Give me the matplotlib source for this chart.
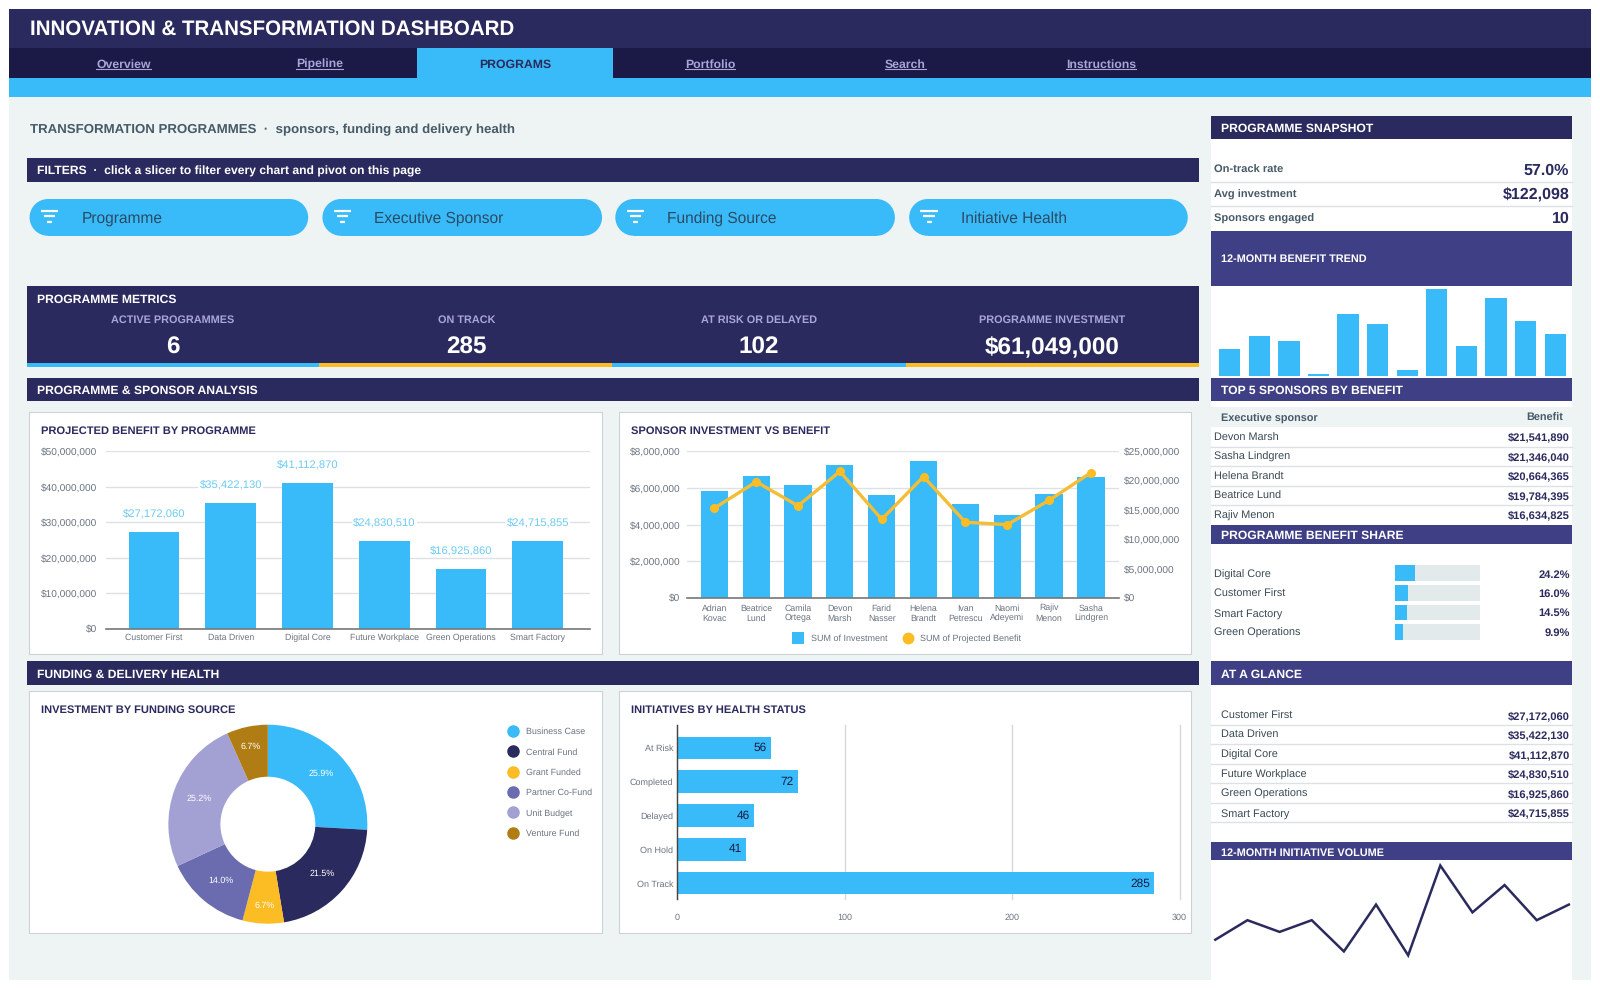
import matplotlib
matplotlib.use('Agg')
from matplotlib import pyplot as plt
from matplotlib.patches import Rectangle, Circle
from matplotlib.ticker import FuncFormatter

plt.rcParams['font.family'] = ['Liberation Sans', 'DejaVu Sans']
plt.rcParams['text.hinting'] = 'no_hinting'

NAVY = '#2B2A5E'
DARK = '#1B1A47'
INDIGO = '#3F3F85'
BLUE = '#38BBF8'
YELLOW = '#FBBC24'
PURPLE = '#6B6BB0'
LAVENDER = '#A3A0D4'
BROWN = '#B07D15'
BG = '#EEF3F4'
GREY = '#6B7480'
SLATE = '#465A68'
LINE = '#DDE1E6'

# data
nav_items = ['Overview', 'Pipeline', 'PROGRAMS', 'Portfolio', 'Search', 'Instructions']
slicers = ['Programme', 'Executive Sponsor', 'Funding Source', 'Initiative Health']
metric_labels = ['ACTIVE PROGRAMMES', 'ON TRACK', 'AT RISK OR DELAYED', 'PROGRAMME INVESTMENT']
metric_values = ['6', '285', '102', '$61,049,000']

programmes = ['Customer First', 'Data Driven', 'Digital Core', 'Future Workplace', 'Green Operations', 'Smart Factory']
programme_benefit = [27172060, 35422130, 41112870, 24830510, 16925860, 24715855]

sponsors = ['Adrian\nKovac', 'Beatrice\nLund', 'Camila\nOrtega', 'Devon\nMarsh', 'Farid\nNasser',
            'Helena\nBrandt', 'Ivan\nPetrescu', 'Naomi\nAdeyemi', 'Rajiv\nMenon', 'Sasha\nLindgren']
sponsor_investment = [5830000, 6620000, 6170000, 7240000, 5610000, 7480000, 5120000, 4500000, 5660000, 6570000]
sponsor_benefit = [15300000, 19784395, 15700000, 21541890, 13400000, 20664365, 12900000, 12500000, 16634825, 21346040]

funding_sources = ['Business Case', 'Central Fund', 'Grant Funded', 'Partner Co-Fund', 'Unit Budget', 'Venture Fund']
funding_share = [25.9, 21.5, 6.7, 14.0, 25.2, 6.7]
funding_colors = [BLUE, NAVY, YELLOW, PURPLE, LAVENDER, BROWN]

health_status = ['At Risk', 'Completed', 'Delayed', 'On Hold', 'On Track']
health_count = [56, 72, 46, 41, 285]

snapshot_labels = ['On-track rate', 'Avg investment', 'Sponsors engaged']
snapshot_values = ['57.0%', '$122,098', '10']

benefit_trend = [9.0, 13.1, 11.4, 0.4, 20.6, 17.1, 2.0, 28.9, 9.7, 25.7, 18.2, 14.0]
initiative_volume = [36, 41, 38, 41, 33, 45, 32, 55, 43, 50, 41, 45]

top_sponsors = ['Devon Marsh', 'Sasha Lindgren', 'Helena Brandt', 'Beatrice Lund', 'Rajiv Menon']
top_benefit = ['$21,541,890', '$21,346,040', '$20,664,365', '$19,784,395', '$16,634,825']

share_names = ['Digital Core', 'Customer First', 'Smart Factory', 'Green Operations']
share_values = [24.2, 16.0, 14.5, 9.9]

W, H = 1568, 968
fig = plt.figure(figsize=(16, 9.88), dpi=100, facecolor='white')
bg = fig.add_axes([0, 0, 1, 1])
bg.set_xlim(0, W)
bg.set_ylim(H, 0)
bg.axis('off')


def px_ax(x0, y0, x1, y1):
    ax = fig.add_axes([x0 / W, 1 - y1 / H, (x1 - x0) / W, (y1 - y0) / H])
    ax.patch.set_alpha(0)
    return ax


def box(x0, y0, x1, y1, color, **kw):
    bg.add_patch(Rectangle((x0, y0), x1 - x0, y1 - y0, facecolor=color, edgecolor=kw.pop('edge', 'none'), **kw))


def label(x, y, s, size=7, color='white', weight='normal', ha='left', **kw):
    return bg.text(x, y + 1, s, fontsize=size, color=color, fontweight=weight, ha=ha, va='center', **kw)


def bar_header(x0, y0, x1, y1, s, color=NAVY, tx=None, size=8.75):
    box(x0, y0, x1, y1, color)
    label(x0 + 10 if tx is None else tx, (y0 + y1) / 2 + 0.5, s, size=size, weight='bold')


# page
box(9, 9, 1559, 960, BG)
box(9, 9, 1559, 47, NAVY)
box(9, 47, 1559, 76, DARK)
box(9, 76, 1559, 95, BLUE)
box(409, 47, 601, 76, BLUE)
label(29, 28, 'INNOVATION & TRANSFORMATION DASHBOARD', size=14.8, weight='bold')

fig.canvas.draw()
renderer = fig.canvas.get_renderer()
nav_x = [121, 313, 505, 696, 887, 1079]
for i, item in enumerate(nav_items):
    if item == 'PROGRAMS':
        label(nav_x[i], 62, item, size=8.8, color=NAVY, weight='bold', ha='center')
    else:
        t = label(nav_x[i], 62, item, size=8.8, color='#A8A5D8', weight='bold', ha='center')
        half = t.get_window_extent(renderer).width * W / 1600 / 2
        bg.plot([nav_x[i] - half, nav_x[i] + half], [68, 68], color='#A8A5D8', lw=0.8)

label(29, 126, 'TRANSFORMATION PROGRAMMES  ·  sponsors, funding and delivery health', size=9.55, color=SLATE, weight='bold')

# filters
box(26, 155, 1175, 178, NAVY)
label(36, 167, 'FILTERS  ·  click a slicer to filter every chart and pivot on this page', size=8.75, weight='bold')
pill_x = [(29, 302), (316, 590), (603, 877), (891, 1164)]
for (x0, x1), name in zip(pill_x, slicers):
    box(x0 + 18, 195, x1 - 18, 231, BLUE)
    bg.add_patch(Circle((x0 + 18, 213), 18, facecolor=BLUE, edgecolor='none'))
    bg.add_patch(Circle((x1 - 18, 213), 18, facecolor=BLUE, edgecolor='none'))
    for dy, a, b in [(-5.5, 11, 28), (0, 14, 25), (5.5, 17, 22)]:
        bg.plot([x0 + a, x0 + b], [212 + dy, 212 + dy], color='white', lw=1.6, solid_capstyle='butt')
    label(x0 + 51, 213, name, size=11.2, color='#2C4A66')

# metrics
box(26, 280, 1175, 360, NAVY)
label(36, 293, 'PROGRAMME METRICS', size=8.75, weight='bold')
metric_x = [169, 457, 744, 1031]
edges = [26, 313, 600, 888, 1175]
for i in range(4):
    label(metric_x[i], 313, metric_labels[i], size=7.8, color='#A8A5D8', weight='bold', ha='center')
    label(metric_x[i], 340, metric_values[i], size=17.5, weight='bold', ha='center')
    box(edges[i], 356, edges[i + 1], 360, BLUE if i % 2 == 0 else YELLOW)

bar_header(26, 370, 1175, 393, 'PROGRAMME & SPONSOR ANALYSIS')
bar_header(26, 648, 1175, 671, 'FUNDING & DELIVERY HEALTH')

# cards
for x0, y0, x1, y1, title in [(28.5, 403.5, 589.5, 640.5, 'PROJECTED BENEFIT BY PROGRAMME'),
                              (606.5, 403.5, 1167.5, 640.5, 'SPONSOR INVESTMENT VS BENEFIT'),
                              (28.5, 677.5, 589.5, 914.5, 'INVESTMENT BY FUNDING SOURCE'),
                              (606.5, 677.5, 1167.5, 914.5, 'INITIATIVES BY HEALTH STATUS')]:
    box(x0, y0, x1, y1, 'white', edge='#CDD2D6', lw=0.8)
    label(x0 + 12, y0 + 17.5, title, size=8.05, color=NAVY, weight='bold')

money = FuncFormatter(lambda v, p: '${:,.0f}'.format(v))


def clean(ax):
    for s in ['top', 'right', 'left']:
        ax.spines[s].set_visible(False)
    ax.spines['bottom'].set_color('#777777')
    ax.spines['bottom'].set_linewidth(1.2)
    ax.tick_params(length=0, labelcolor=GREY)
    ax.tick_params(axis='x', labelsize=6.3)
    ax.tick_params(axis='y', labelsize=7.3)
    ax.set_axisbelow(True)


# projected benefit
ax = px_ax(104, 442, 578, 616)
ax.bar(range(6), programme_benefit, width=0.66, color=BLUE)
ax.set_xlim(-0.625, 5.678)
ax.set_ylim(0, 50000000)
ax.set_yticks([0, 10000000, 20000000, 30000000, 40000000, 50000000])
ax.yaxis.set_major_formatter(money)
ax.set_xticks(range(6))
ax.set_xticklabels(programmes)
ax.grid(axis='y', color=LINE, lw=1)
clean(ax)
ax.tick_params(axis='x', pad=3.5)
ax.tick_params(axis='y', pad=6.5)
for i, v in enumerate(programme_benefit):
    ax.text(i, v + 5100000, '${:,}'.format(v), ha='center', va='center', fontsize=8.1, color='#6CCBF2',
            bbox=dict(facecolor='white', edgecolor='none', pad=1))

# sponsor combo
ax = px_ax(673, 442, 1097, 586)
ax.bar(range(10), sponsor_investment, width=0.65, color=BLUE)
ax.set_xlim(-0.66, 9.68)
ax.set_ylim(0, 8000000)
ax.set_yticks([0, 2000000, 4000000, 6000000, 8000000])
ax.yaxis.set_major_formatter(money)
ax.set_xticks(range(10))
ax.set_xticklabels(sponsors, linespacing=1.25)
ax.grid(axis='y', color=LINE, lw=1)
clean(ax)
ax.tick_params(axis='x', pad=4.3)
ax.tick_params(axis='y', pad=4.4)
ax2 = ax.twinx()
ax2.patch.set_alpha(0)
ax2.plot(range(10), sponsor_benefit, color='#F3BE35', lw=2.4, marker='o', ms=5.5, mfc=YELLOW, mec=YELLOW)
ax2.set_ylim(0, 25000000)
ax2.set_yticks([0, 5000000, 10000000, 15000000, 20000000, 25000000])
ax2.yaxis.set_major_formatter(money)
for s in ax2.spines.values():
    s.set_visible(False)
ax2.tick_params(length=0, labelsize=7.3, labelcolor=GREY, pad=3)

box(776, 619, 788, 631, BLUE, zorder=5)
label(795, 625, 'SUM of Investment', size=6.5, color=GREY)
bg.plot([890], [625], 'o', ms=7.5, color=YELLOW)
label(902, 625, 'SUM of Projected Benefit', size=6.5, color=GREY)

# donut
ax = px_ax(165, 710, 360, 905)
wedges, texts, pcts = ax.pie(funding_share, colors=funding_colors, startangle=90, counterclock=False, radius=1,
                             wedgeprops=dict(width=0.523), autopct='%.1f%%', pctdistance=0.74,
                             textprops=dict(color='white', fontsize=6.4))
pcts[2].set_y(pcts[2].get_position()[1] - 8 / 97.5)
pcts[5].set_y(pcts[5].get_position()[1] + 5 / 97.5)
pcts[5].set_x(pcts[5].get_position()[0] - 2 / 97.5)
ax.set_xlim(-1, 1)
ax.set_ylim(-1, 1)
legend_y = [716, 736, 756, 776, 796, 816]
for y, name, c in zip(legend_y, funding_sources, funding_colors):
    bg.plot([503], [y], 'o', ms=8, color=c)
    label(515, y, name, size=6.4, color=GREY)

# health status
ax = px_ax(663.5, 710, 1156, 881)
ypos = range(5)
ax.barh(ypos, health_count, height=0.66, color=BLUE)
ax.set_ylim(4.47, -0.68)
ax.set_xlim(0, 300)
ax.set_xticks([0, 100, 200, 300])
ax.set_yticks(ypos)
ax.set_yticklabels(health_status)
ax.grid(axis='x', color='#D5D8DC', lw=1)
for l in ax.get_xgridlines():
    l.set_clip_on(False)
for s in ['top', 'right', 'bottom']:
    ax.spines[s].set_visible(False)
ax.spines['left'].set_color('#444444')
ax.spines['left'].set_linewidth(1)
ax.tick_params(length=0, labelsize=6.5, labelcolor=GREY)
ax.tick_params(axis='x', pad=10)
ax.tick_params(axis='y', pad=2.6)
ax.set_axisbelow(True)
for i, v in enumerate(health_count):
    ax.text(v - 2.5, i, str(v), ha='right', va='center', fontsize=8.6, color=DARK)

# right panel
box(1187, 114, 1541, 960, 'white')
bar_header(1187, 114, 1541, 136, 'PROGRAMME SNAPSHOT')
snap_y = [166, 190, 213]
for i in range(3):
    label(1190, snap_y[i], snapshot_labels[i], size=8, color=SLATE, weight='bold')
    label(1538, snap_y[i], snapshot_values[i], size=11.5, color=NAVY, weight='bold', ha='right')
    if i < 2:
        bg.plot([1187, 1541], [snap_y[i] + 12, snap_y[i] + 12], color=LINE, lw=1)
box(1187, 226, 1541, 280, INDIGO)
label(1197, 253, '12-MONTH BENEFIT TREND', size=7.8, weight='bold')

ax = px_ax(1190, 283, 1538, 368)
ax.bar(range(12), benefit_trend, width=0.72, color=BLUE)
ax.set_xlim(-0.52, 11.48)
ax.set_ylim(0, max(benefit_trend))
ax.axis('off')

bar_header(1187, 370, 1541, 393, 'TOP 5 SPONSORS BY BENEFIT', color=INDIGO)
box(1187, 399, 1541, 418, BG)
label(1197, 409, 'Executive sponsor', size=7.85, color=SLATE, weight='bold')
label(1532, 409, 'Benefit', size=7.85, color=SLATE, weight='bold', ha='right')
for i in range(5):
    y = 428 + i * 19.1
    label(1190, y, top_sponsors[i], size=7.8, color='#3A4A55')
    label(1538.5, y, top_benefit[i], size=8, color=NAVY, weight='bold', ha='right')
    if i < 4:
        bg.plot([1187, 1541], [y + 9.5, y + 9.5], color=LINE, lw=1)

bar_header(1187, 514, 1541, 533, 'PROGRAMME BENEFIT SHARE', color=INDIGO)
ax = px_ax(1367, 552, 1450, 629)
ax.barh(range(4), [100] * 4, height=0.79, color='#E2EAEC')
ax.barh(range(4), share_values, height=0.79, color=BLUE)
ax.set_xlim(0, 100)
ax.set_ylim(3.5, -0.5)
ax.axis('off')
for i in range(4):
    y = 562 + i * 19
    label(1190, y, share_names[i], size=7.8, color='#3A4A55')
    label(1538.5, y, '{:.1f}%'.format(share_values[i]), size=8, color=NAVY, weight='bold', ha='right')

bar_header(1187, 648, 1541, 671, 'AT A GLANCE', color=INDIGO)
for i in range(6):
    y = 700.5 + i * 19.1
    label(1197, y, programmes[i], size=7.8, color='#3A4A55')
    label(1538.5, y, '${:,}'.format(programme_benefit[i]), size=8, color=NAVY, weight='bold', ha='right')
    bg.plot([1187, 1541], [y + 9.5, y + 9.5], color=LINE, lw=1)

bar_header(1187, 825, 1541, 843, '12-MONTH INITIATIVE VOLUME', color=INDIGO, size=7.85)
ax = px_ax(1191, 848, 1537.5, 936)
ax.plot(range(12), initiative_volume, color=NAVY, lw=1.8, solid_joinstyle='miter')
ax.set_xlim(0, 11)
ax.set_ylim(min(initiative_volume), max(initiative_volume))
ax.axis('off')
for a in fig.axes[1:]:
    for l in a.get_lines():
        l.set_clip_on(False)

plt.savefig('out.png', dpi=100)
